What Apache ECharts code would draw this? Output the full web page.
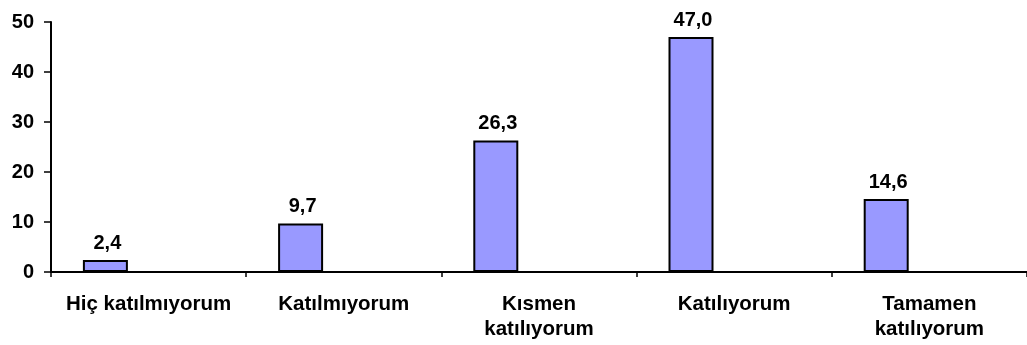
<!DOCTYPE html>
<html>
<head>
<meta charset="utf-8">
<style>
  html, body { margin: 0; padding: 0; background: #ffffff; }
  #chart { width: 1027px; height: 345px; }
</style>
<script src="https://cdn.jsdelivr.net/npm/echarts@6/dist/echarts.min.js"></script>
</head>
<body>
<div id="chart"></div>
<script>
// Response categories (Likert scale) and their percentages
const categories = ['Hiç katılmıyorum', 'Katılmıyorum', 'Kısmen\nkatılıyorum', 'Katılıyorum', 'Tamamen\nkatılıyorum'];
const percentages = [2.4, 9.7, 26.3, 47.0, 14.6];
// Empty companion series: keeps the second bar slot in each category
const emptySlot = [null, null, null, null, null];
const yMin = 0, yMax = 50, yStep = 10;

const FONT = 'Arial, "Liberation Sans", sans-serif';

const chart = echarts.init(document.getElementById('chart'), null, { renderer: 'canvas' });

chart.setOption({
  animation: false,
  backgroundColor: '#ffffff',
  grid: { left: 51, top: 22, width: 981, height: 250, containLabel: false },
  xAxis: {
    type: 'category',
    data: categories,
    boundaryGap: true,
    axisLine: { show: true, lineStyle: { color: '#000000', width: 2 } },
    axisTick: { show: true, length: 5, lineStyle: { color: '#000000', width: 1.5 } },
    axisLabel: {
      interval: 0,
      margin: 20,
      color: '#000000',
      fontFamily: FONT,
      fontWeight: 'bold',
      fontSize: 20.5,
      lineHeight: 25
    },
    splitLine: { show: false }
  },
  yAxis: {
    type: 'value',
    min: yMin,
    max: yMax,
    interval: yStep,
    axisLine: { show: true, lineStyle: { color: '#000000', width: 2 } },
    axisTick: { show: true, length: 7, lineStyle: { color: '#000000', width: 1.5 } },
    axisLabel: {
      margin: 17,
      color: '#000000',
      fontFamily: FONT,
      fontWeight: 'bold',
      fontSize: 20
    },
    splitLine: { show: false }
  },
  series: [
    {
      name: 'Yüzde',
      type: 'bar',
      data: percentages,
      barWidth: 45,
      barGap: '92%',
      itemStyle: { color: '#9999FF', borderColor: '#000000', borderWidth: 2 },
      label: {
        show: true,
        position: 'top',
        distance: 7,
        offset: [2, 0],
        color: '#000000',
        fontFamily: FONT,
        fontWeight: 'bold',
        fontSize: 20,
        formatter: p => p.value.toFixed(1).replace('.', ',')
      }
    },
    {
      name: 'Boş',
      type: 'bar',
      data: emptySlot,
      barWidth: 45,
      itemStyle: { color: 'transparent' }
    }
  ]
});
</script>
</body>
</html>
